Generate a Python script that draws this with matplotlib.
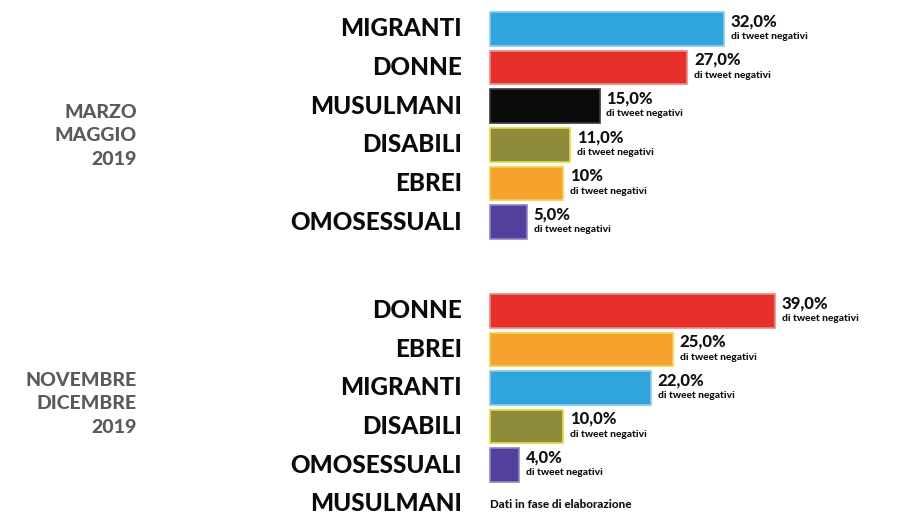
import matplotlib
matplotlib.use("Agg")
import matplotlib.pyplot as plt

# ---------------- data ----------------
period1 = ["MARZO", "MAGGIO", "2019"]
cats1 = ["MIGRANTI", "DONNE", "MUSULMANI", "DISABILI", "EBREI", "OMOSESSUALI"]
vals1 = [32.0, 27.0, 15.0, 11.0, 10.0, 5.0]
labels1 = ["32,0%", "27,0%", "15,0%", "11,0%", "10%", "5,0%"]

period2 = ["NOVEMBRE", "DICEMBRE", "2019"]
cats2 = ["DONNE", "EBREI", "MIGRANTI", "DISABILI", "OMOSESSUALI", "MUSULMANI"]
vals2 = [39.0, 25.0, 22.0, 10.0, 4.0, None]
labels2 = ["39,0%", "25,0%", "22,0%", "10,0%", "4,0%", None]

subtitle = "di tweet negativi"
pending = "Dati in fase di elaborazione"

colors = {
    "MIGRANTI": "#2fa4dd",
    "DONNE": "#e8302a",
    "MUSULMANI": "#0b0b0b",
    "DISABILI": "#8e8b3b",
    "EBREI": "#f6a22c",
    "OMOSESSUALI": "#533f9c",
}
edges = {
    "MIGRANTI": "#8ccbea",
    "DONNE": "#ee8a84",
    "MUSULMANI": "#3a3a3a",
    "DISABILI": "#e3dc3a",
    "EBREI": "#f7cf48",
    "OMOSESSUALI": "#9383c8",
}

# ---------------- layout ----------------
W, H = 900, 514
fig = plt.figure(figsize=(W / 100, H / 100), dpi=100)
ax = fig.add_axes([0, 0, 1, 1])
ax.set_axis_off()

row_px = 38.6
x0_px = 490.0
px_per_pct = 7.3
ax.set_xlim(-x0_px / px_per_pct, (W - x0_px) / px_per_pct)
ax.set_ylim((H - 29.0) / row_px, -29.0 / row_px)

families = ["Lato", "DejaVu Sans"]
off = 7.0 / px_per_pct

pos1 = [i for i in range(len(cats1))]
pos2 = [7.3 + i for i in range(len(cats2))]

def draw_group(cats, vals, labels, pos, period, period_pos):
    for c, v, lab, y in zip(cats, vals, labels, pos):
        ax.text(-28 / px_per_pct, y, c, ha="right", va="center", fontsize=17.5,
                fontweight="black", family=families, color="#0a0a0a")
        if v is None:
            ax.text(0, y + 0.02, pending, ha="left", va="center", fontsize=8.4,
                    fontweight="black", family=families, color="#111111")
            continue
        ax.barh(y, v, height=0.87, left=0, color=colors[c],
                edgecolor=edges[c], linewidth=1.2)
        ax.text(v + off, y - 0.2, lab, ha="left", va="center", fontsize=12,
                fontweight="black", family=families, color="#111111")
        ax.text(v + off, y + 0.2, subtitle, ha="left", va="center", fontsize=7.4,
                fontweight="black", family=families, color="#111111")
    for k, line in enumerate(period):
        ax.text(-353 / px_per_pct, period_pos + k * 0.62, line, ha="right",
                va="center", fontsize=14, fontweight="black",
                family=families, color="#5a5a5c")

draw_group(cats1, vals1, labels1, pos1, period1, (112 - 29) / row_px)
draw_group(cats2, vals2, labels2, pos2, period2, (380 - 29) / row_px)

fig.savefig("out.png", dpi=100, facecolor="white")
